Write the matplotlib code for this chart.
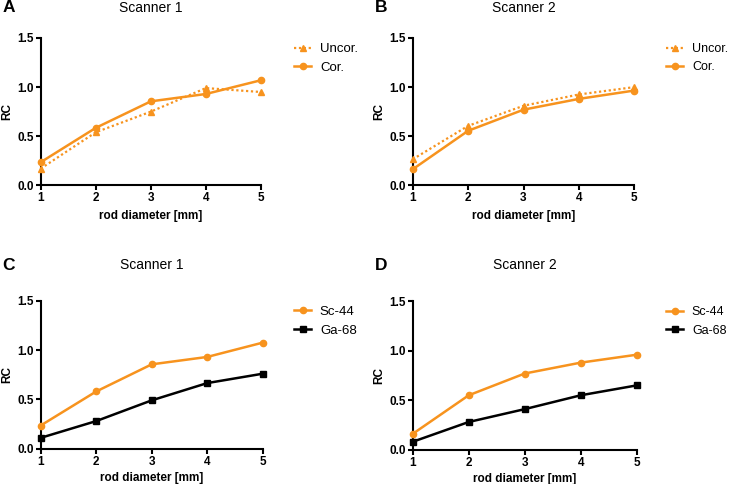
import matplotlib
matplotlib.use("Agg")
import matplotlib.pyplot as plt

plt.rcParams['font.family'] = ['Liberation Sans', 'DejaVu Sans']

diam = [1, 2, 3, 4, 5]
a_uncor = [0.17, 0.54, 0.75, 0.99, 0.95]
a_cor = [0.235, 0.585, 0.855, 0.93, 1.07]
b_uncor = [0.265, 0.605, 0.81, 0.925, 1.0]
b_cor = [0.163, 0.555, 0.77, 0.88, 0.965]
c_sc44 = [0.235, 0.58, 0.855, 0.93, 1.075]
c_ga68 = [0.11, 0.28, 0.49, 0.665, 0.76]
d_sc44 = [0.16, 0.55, 0.77, 0.88, 0.96]
d_ga68 = [0.08, 0.28, 0.41, 0.55, 0.65]

ORANGE = '#F7931E'
BLACK = '#000000'
W, H = 729, 484

fig = plt.figure(figsize=(W / 100, H / 100), dpi=100)

def px_axes(left, right, top, bottom):
    return fig.add_axes([left / W, 1 - bottom / H, (right - left) / W, (bottom - top) / H])

def style(ax, left, right, top, bottom, xl_off):
    ax.set_xlim(1, 5)
    ax.set_ylim(0, 1.5)
    ax.set_xticks(diam)
    ax.set_yticks([0.0, 0.5, 1.0, 1.5])
    ax.set_yticklabels(['0.0', '0.5', '1.0', '1.5'])
    for s in ['top', 'right']:
        ax.spines[s].set_visible(False)
    for s in ['left', 'bottom']:
        ax.spines[s].set_linewidth(1.5)
    ax.tick_params(width=1.5, length=3.5, labelsize=8.5, pad=1.5)
    for lab in ax.get_xticklabels() + ax.get_yticklabels():
        lab.set_fontweight('bold')
    ax.set_xlabel('rod diameter [mm]', fontsize=8.5, fontweight='bold')
    ax.set_ylabel('RC', fontsize=8.5, fontweight='bold')
    ax.xaxis.set_label_coords(0.5, -xl_off / (bottom - top))
    ax.yaxis.set_label_coords(-27 / (right - left), 0.5)

panels = [
    ('A', 'Scanner 1', (40.7, 261, 38, 185.3), 8, 25, 9.5, a_uncor, a_cor, 'uc'),
    ('B', 'Scanner 2', (412.7, 634.3, 38, 185.3), 8, 25, 9.0, b_uncor, b_cor, 'uc'),
    ('C', 'Scanner 1', (40.7, 262.7, 300.7, 448.7), 265, 23.5, 9.5, c_sc44, c_ga68, 'sg'),
    ('D', 'Scanner 2', (412.7, 636.7, 301.3, 449.7), 265, 23.5, 9.0, d_sc44, d_ga68, 'sg'),
]

for letter, title, box, ty, xl_off, lfs, s1, s2, kind in panels:
    left, right, top, bottom = box
    ax = px_axes(left, right, top, bottom)
    if kind == 'uc':
        l1, = ax.plot(diam, s1, color=ORANGE, lw=1.6, ls=(0, (1, 1.2)), marker='^',
                      ms=4.5, clip_on=False, zorder=3, label='Uncor.')
        l2, = ax.plot(diam, s2, color=ORANGE, lw=1.8, ls='-', marker='o',
                      ms=4.5, clip_on=False, zorder=4, label='Cor.')
    else:
        l1, = ax.plot(diam, s1, color=ORANGE, lw=1.8, marker='o', ms=4.5,
                      clip_on=False, zorder=4, label='Sc-44')
        l2, = ax.plot(diam, s2, color=BLACK, lw=1.8, marker='s', ms=4.5,
                      clip_on=False, zorder=3, label='Ga-68')
    style(ax, left, right, top, bottom, xl_off)
    cx = (left + right) / 2
    fig.text(cx / W, 1 - ty / H, title, ha='center', va='center', fontsize=10)
    fig.text((left - 38) / W, 1 - ty / H, letter, ha='left', va='center',
             fontsize=12.5, fontweight='bold')
    hl = 12.3 / lfs
    hp = 6.2 / lfs
    fig.legend(handles=[l1, l2], loc='upper left',
               bbox_to_anchor=((left + 253.5 if kind == 'uc' else left + 253.5) / W,
                               1 - (top + 5) / H),
               frameon=False, fontsize=lfs, handlelength=hl, handletextpad=hp,
               labelspacing=0.5, borderaxespad=0, borderpad=0)

fig.savefig('out.png', dpi=100)
